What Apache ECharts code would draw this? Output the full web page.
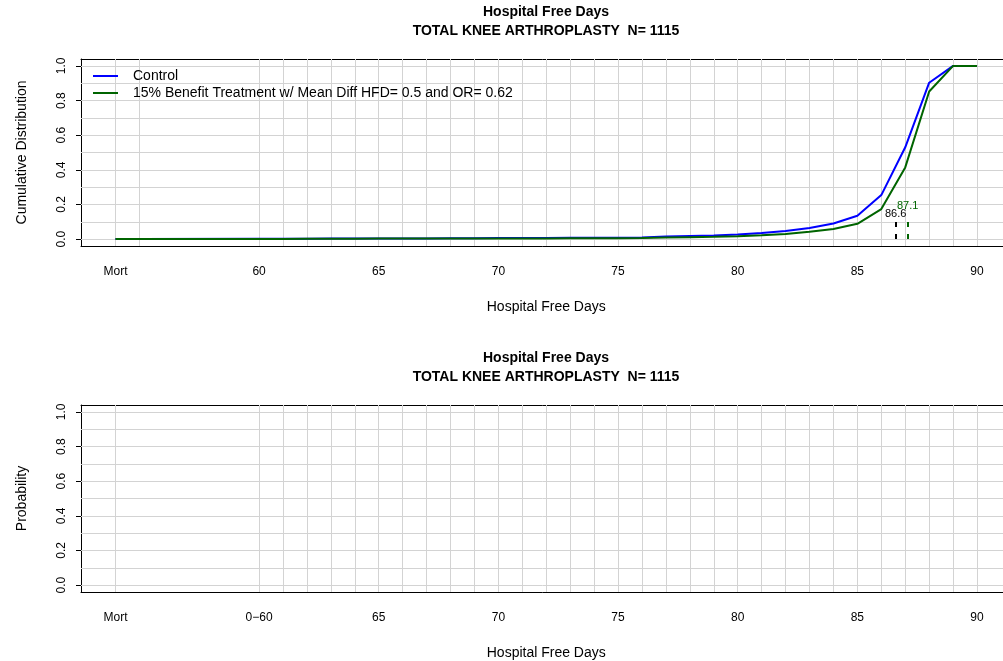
<!DOCTYPE html>
<html>
<head>
<meta charset="utf-8">
<script src="https://cdn.jsdelivr.net/npm/echarts@6/dist/echarts.min.js"></script>
<style>html,body{margin:0;padding:0;background:#fff;}#c{width:1003px;height:661px;}</style>
</head>
<body>
<div id="c"></div>
<script>
// ---- data ----
const mainTitle = 'Hospital Free Days';
const subTitle = 'TOTAL KNEE ARTHROPLASTY  N= 1115';
const xTitle = 'Hospital Free Days';
const topYTitle = 'Cumulative Distribution';
const bottomYTitle = 'Probability';
const seriesNames = ['Control', '15% Benefit Treatment w/ Mean Diff HFD= 0.5 and OR= 0.62'];
const xValues = [54,55,60,61,62,63,64,65,66,67,68,69,70,71,72,73,74,75,76,77,78,79,80,81,82,83,84,85,86,87,88,89,90];
const controlCdf = [0.001,0.001,0.002,0.002,0.002,0.003,0.003,0.004,0.004,0.004,0.005,0.005,0.006,0.006,0.006,0.007,0.007,0.008,0.009,0.015,0.018,0.021,0.026,0.035,0.046,0.064,0.09,0.135,0.254,0.53,0.903,1,1];
const treatmentCdf = [0.001,0.001,0.001,0.001,0.002,0.002,0.002,0.003,0.003,0.003,0.003,0.004,0.004,0.004,0.004,0.005,0.005,0.005,0.006,0.009,0.011,0.013,0.016,0.022,0.03,0.042,0.058,0.088,0.173,0.414,0.852,1,1];
const medians = [86.6, 87.1];
const medianLabels = ['86.6', '87.1'];
const xTickValues = [54,60,65,70,75,80,85,90];
const topXTickLabels = ['Mort','60','65','70','75','80','85','90'];
const bottomXTickLabels = ['Mort','0\u221260','65','70','75','80','85','90'];
const yTickValues = [0,0.2,0.4,0.6,0.8,1.0];
const yGridValues = [0,0.1,0.2,0.3,0.4,0.5,0.6,0.7,0.8,0.9,1.0];
const topXGridValues = [54,55,60,61,62,63,64,65,66,67,68,69,70,71,72,73,74,75,76,77,78,79,80,81,82,83,84,85,86,87,88,89,90];
const bottomXGridValues = [54,60,61,62,63,64,65,66,67,68,69,70,71,72,73,74,75,76,77,78,79,80,81,82,83,84,85,86,87,88,89,90];

// ---- chart ----
const FONT = 'Liberation Sans, Arial, Helvetica, sans-serif';
const colors = ['#0000ff', '#006400'];
const medianColors = ['#000000', '#006400'];
const X_MIN = 52.56, X_MAX = 91.44;
const grids = [
  {left: 81, top: 59, height: 187, width: 930.5, outerBoundsMode: 'none', containLabel: false},
  {left: 81, top: 405, height: 187, width: 930.5, outerBoundsMode: 'none', containLabel: false}
];
function xAxisFor(i, labels) {
  return {
    type: 'value', gridIndex: i, min: X_MIN, max: X_MAX, position: 'bottom',
    name: xTitle, nameLocation: 'middle', nameGap: 54,
    nameTextStyle: {fontFamily: FONT, fontSize: 14, color: '#000'},
    axisLine: {show: true, onZero: false, lineStyle: {color: '#000', width: 1}},
    axisTick: {show: false}, splitLine: {show: false},
    axisLabel: {
      customValues: xTickValues, margin: 20, fontFamily: FONT, fontSize: 12, color: '#000',
      formatter: function (v) { const k = xTickValues.indexOf(v); return k >= 0 ? labels[k] : ''; }
    }
  };
}
function topAxisFor(i) {
  return {
    type: 'value', gridIndex: i, min: X_MIN, max: X_MAX, position: 'top',
    axisLine: {show: true, onZero: false, lineStyle: {color: '#000', width: 1}},
    axisTick: {show: false}, axisLabel: {show: false}, splitLine: {show: false}
  };
}
function yAxisFor(i, title) {
  return {
    type: 'value', gridIndex: i, min: -0.04, max: 1.04,
    name: title, nameLocation: 'middle', nameGap: 52,
    nameTextStyle: {fontFamily: FONT, fontSize: 14, color: '#000'},
    axisLine: {show: true, onZero: false, lineStyle: {color: '#000', width: 1}},
    axisTick: {show: true, customValues: yTickValues, length: 5, lineStyle: {color: '#000', width: 1}},
    splitLine: {show: false},
    axisLabel: {
      customValues: yTickValues, rotate: 90, margin: 13, fontFamily: FONT, fontSize: 12, color: '#000',
      formatter: function (v) { return v.toFixed(1); }
    }
  };
}
function gridLines(xs) {
  const d = [];
  xs.forEach(v => d.push({xAxis: v}));
  yGridValues.forEach(v => d.push({yAxis: v}));
  return {
    silent: true, symbol: ['none', 'none'], z: 1, animation: false,
    label: {show: false},
    lineStyle: {color: '#d3d3d3', type: 'solid', width: 1},
    data: d
  };
}
function pairs(xs, ys) { return xs.map((x, k) => [x, ys[k]]); }

const series = [
  {name: 'gridTop', type: 'line', xAxisIndex: 0, yAxisIndex: 0, data: [], z: 1, markLine: gridLines(topXGridValues)},
  {name: 'gridBottom', type: 'line', xAxisIndex: 1, yAxisIndex: 1, data: [], z: 1, markLine: gridLines(bottomXGridValues)},
  {name: seriesNames[0], type: 'line', xAxisIndex: 0, yAxisIndex: 0, data: pairs(xValues, controlCdf),
   symbol: 'none', z: 4, color: colors[0], lineStyle: {width: 2, color: colors[0]}},
  {name: seriesNames[1], type: 'line', xAxisIndex: 0, yAxisIndex: 0, data: pairs(xValues, treatmentCdf),
   symbol: 'none', z: 5, color: colors[1], lineStyle: {width: 2, color: colors[1]}}
];
// median markers
medians.forEach((m, k) => {
  series.push({
    name: 'median' + k, type: 'line', xAxisIndex: 0, yAxisIndex: 0, data: [], z: 6,
    markLine: {
      silent: true, symbol: ['none', 'none'], z: 6, animation: false,
      lineStyle: {color: medianColors[k], type: [5, 7], width: 2},
      label: {show: true, position: 'end', formatter: medianLabels[k], color: medianColors[k],
              fontFamily: FONT, fontSize: 11, distance: k === 0 ? 1 : 9},
      data: [[{coord: [m, 0]}, {coord: [m, 0.11]}]]
    }
  });
});

const chart = echarts.init(document.getElementById('c'), null, {renderer: 'canvas'});
chart.setOption({
  animation: false,
  backgroundColor: '#fff',
  grid: grids,
  xAxis: [xAxisFor(0, topXTickLabels), xAxisFor(1, bottomXTickLabels), topAxisFor(0), topAxisFor(1)],
  yAxis: [yAxisFor(0, topYTitle), yAxisFor(1, bottomYTitle)],
  legend: {
    data: seriesNames, orient: 'vertical', left: 93, top: 69, itemGap: 3, padding: 0,
    itemWidth: 25, itemHeight: 12, icon: 'path://M0,5 L25,5 L25,7 L0,7 Z',
    textStyle: {fontFamily: FONT, fontSize: 14, color: '#000', padding: [0, 0, 0, 10]},
    selectedMode: false
  },
  graphic: [
    {type: 'text', x: 546, y: 12, style: {text: mainTitle, font: 'bold 14px ' + FONT, fill: '#000', align: 'center', verticalAlign: 'middle'}},
    {type: 'text', x: 546, y: 31, style: {text: subTitle, font: 'bold 14px ' + FONT, fill: '#000', align: 'center', verticalAlign: 'middle'}},
    {type: 'text', x: 546, y: 358, style: {text: mainTitle, font: 'bold 14px ' + FONT, fill: '#000', align: 'center', verticalAlign: 'middle'}},
    {type: 'text', x: 546, y: 377, style: {text: subTitle, font: 'bold 14px ' + FONT, fill: '#000', align: 'center', verticalAlign: 'middle'}}
  ],
  series: series
});
</script>
</body>
</html>
